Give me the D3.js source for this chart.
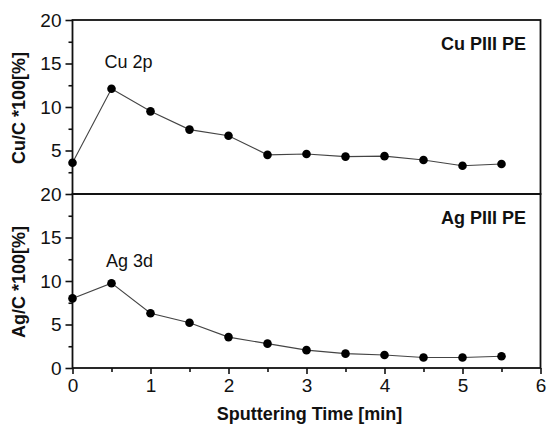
<!DOCTYPE html>
<html><head><meta charset="utf-8">
<script src="https://cdn.jsdelivr.net/npm/d3@7"></script>
<style>
html,body{margin:0;padding:0;background:#fff;}
text{font-family:"Liberation Sans",Arial,Helvetica,sans-serif;}
</style></head>
<body><svg id="c" width="547" height="425"></svg>
<script>
const times = [0, 0.5, 1, 1.5, 2, 2.5, 3, 3.5, 4, 4.5, 5, 5.5];
const cuValues = [3.6, 12.1, 9.5, 7.4, 6.7, 4.5, 4.6, 4.3, 4.35, 3.9, 3.25, 3.45];
const agValues = [8.0, 9.75, 6.3, 5.2, 3.55, 2.8, 2.05, 1.65, 1.5, 1.2, 1.2, 1.35];
const xTicks = [0, 1, 2, 3, 4, 5, 6];
const xMinor = [0.5, 1.5, 2.5, 3.5, 4.5, 5.5];
const yTicksTop = [5, 10, 15, 20];
const yTicksBottom = [0, 5, 10, 15, 20];
const yMinor = [2.5, 7.5, 12.5, 17.5];
const panels = [
  {values: cuValues, ticks: yTicksTop, ylabel: "Cu/C *100[%]", series: "Cu 2p", title: "Cu PIII PE", lx: 0.41, ly: 14.5},
  {values: agValues, ticks: yTicksBottom, ylabel: "Ag/C *100[%]", series: "Ag 3d", title: "Ag PIII PE", lx: 0.43, ly: 11.6}
];

const svg = d3.select("#c");
const L = 72.5, R = 540.5;
const tops = [20, 194], bottoms = [194, 368];
const x = d3.scaleLinear().domain([0, 6]).range([L, R]);

panels.forEach((p, i) => {
  const y = d3.scaleLinear().domain([0, 20]).range([bottoms[i], tops[i]]);
  const g = svg.append("g");
  g.append("rect").attr("x", L).attr("y", tops[i]).attr("width", R - L).attr("height", bottoms[i] - tops[i])
    .attr("fill", "none").attr("stroke", "#111").attr("stroke-width", 1.8);
  const ya = d3.axisLeft(y).tickValues(p.ticks).tickSize(7).tickPadding(4).tickFormat(d3.format("d"));
  const yg = g.append("g").attr("transform", `translate(${L},0)`).call(ya);
  yg.select(".domain").remove();
  yg.selectAll("line").attr("stroke", "#111").attr("stroke-width", 1.6);
  yg.selectAll("text").attr("font-size", 19).attr("fill", "#111").attr("font-family", "'Liberation Sans',Arial,sans-serif");
  const ym = d3.axisLeft(y).tickValues(yMinor).tickSize(4).tickFormat("");
  const ymg = g.append("g").attr("transform", `translate(${L},0)`).call(ym);
  ymg.select(".domain").remove();
  ymg.selectAll("line").attr("stroke", "#111").attr("stroke-width", 1.6);
  const line = d3.line().x((d, j) => x(times[j])).y(d => y(d));
  g.append("path").datum(p.values).attr("d", line).attr("fill", "none").attr("stroke", "#444").attr("stroke-width", 1.1);
  g.selectAll("circle").data(p.values).join("circle")
    .attr("cx", (d, j) => x(times[j])).attr("cy", d => y(d)).attr("r", 4.3).attr("fill", "#000");
  const cy = (tops[i] + bottoms[i]) / 2 + 1;
  g.append("text").attr("transform", `translate(25,${cy}) rotate(-90)`).attr("text-anchor", "middle")
    .attr("font-size", 18).attr("font-weight", "bold").attr("fill", "#111").text(p.ylabel);
  g.append("text").attr("x", x(p.lx)).attr("y", y(p.ly)).attr("text-anchor", "start")
    .attr("font-size", 18).attr("fill", "#111").text(p.series);
  g.append("text").attr("x", 526).attr("y", tops[i] + 30).attr("text-anchor", "end")
    .attr("font-size", 18).attr("font-weight", "bold").attr("fill", "#111").text(p.title);
});

const yb = bottoms[1];
const xa = d3.axisBottom(x).tickValues(xTicks).tickSize(6).tickPadding(5).tickFormat(d3.format("d"));
const xg = svg.append("g").attr("transform", `translate(0,${yb})`).call(xa);
xg.select(".domain").remove();
xg.selectAll("line").attr("stroke", "#111").attr("stroke-width", 1.6);
xg.selectAll("text").attr("font-size", 19).attr("fill", "#111").attr("font-family", "'Liberation Sans',Arial,sans-serif");
const xm = d3.axisBottom(x).tickValues(xMinor).tickSize(4).tickFormat("");
const xmg = svg.append("g").attr("transform", `translate(0,${yb})`).call(xm);
xmg.select(".domain").remove();
xmg.selectAll("line").attr("stroke", "#111").attr("stroke-width", 1.6);

svg.append("text").attr("x", (L + R) / 2 + 3).attr("y", 420).attr("text-anchor", "middle")
  .attr("font-size", 18).attr("font-weight", "bold").attr("fill", "#111").text("Sputtering Time [min]");
</script></body></html>
